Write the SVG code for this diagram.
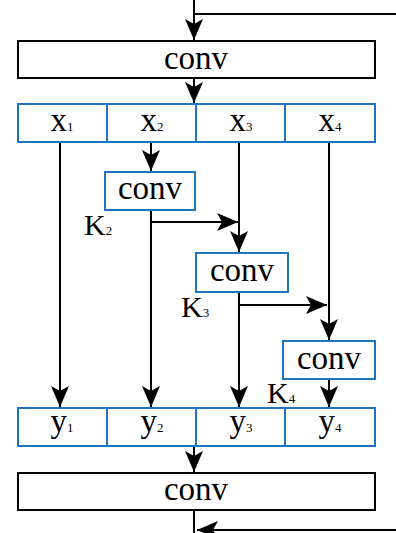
<svg xmlns="http://www.w3.org/2000/svg" width="396" height="533" viewBox="0 0 396 533">
<defs>
<marker id="ah" markerUnits="userSpaceOnUse" markerWidth="24" markerHeight="20" viewBox="-22 -10 24 20" refX="0" refY="0" orient="auto" overflow="visible">
<path d="M0,0 L-21,-9 L-16,0 L-21,9 Z" fill="#000"/>
</marker>
</defs>
<style>
.blk{fill:#fff;stroke:#000;stroke-width:2}
.blu{fill:#fff;stroke:#1f74be;stroke-width:2}
text{font-family:'Liberation Serif','Times New Roman',serif;fill:#000}
.t{font-size:33px;text-anchor:middle}
.s{font-size:13px}
.k{font-size:30px}
.c{fill:none;stroke:#000;stroke-width:2}
.a{marker-end:url(#ah)}
</style>
<g id="connectors">
<path class="c a" d="M194,0 V40"/>
<path class="c" d="M194,14 H396"/>
<path class="c a" d="M194,78 V103"/>
<path class="c a" d="M60,142 V407"/>
<path class="c a" d="M151,142 V171"/>
<path class="c a" d="M151,210 V407"/>
<path class="c a" d="M151,222 H238"/>
<path class="c a" d="M239,142 V252"/>
<path class="c a" d="M239,292 V407"/>
<path class="c a" d="M239,305 H327"/>
<path class="c a" d="M329,142 V340"/>
<path class="c a" d="M329,379 V407"/>
<path class="c a" d="M194,446 V472"/>
<path class="c" d="M194,510 V533"/>
<path class="c a" d="M396,530 H197"/>
</g>
<g id="conv_top"><rect class="blk" x="18" y="41" width="357" height="37"/><text class="t" x="196" y="69">conv</text></g>
<g id="x_row">
<rect class="blu" x="18" y="104" width="89" height="38"/>
<rect class="blu" x="107" y="104" width="89" height="38"/>
<rect class="blu" x="196" y="104" width="89" height="38"/>
<rect class="blu" x="285" y="104" width="90" height="38"/>
<text class="t" x="62" y="131">x<tspan class="s">1</tspan></text>
<text class="t" x="152" y="131">x<tspan class="s">2</tspan></text>
<text class="t" x="241" y="131">x<tspan class="s">3</tspan></text>
<text class="t" x="330" y="131">x<tspan class="s">4</tspan></text>
</g>
<g id="conv2"><rect class="blu" x="105" y="172" width="90" height="38"/><text class="t" x="150" y="199">conv</text></g>
<g id="conv3"><rect class="blu" x="196" y="253" width="92" height="39"/><text class="t" x="242" y="281">conv</text></g>
<g id="conv4"><rect class="blu" x="283" y="341" width="92" height="38"/><text class="t" x="329" y="369">conv</text></g>
<g id="k2"><text class="k" x="84" y="235">K<tspan class="s">2</tspan></text></g>
<g id="k3"><text class="k" x="181" y="317">K<tspan class="s">3</tspan></text></g>
<g id="k4"><text class="k" x="267" y="403">K<tspan class="s">4</tspan></text></g>
<g id="y_row">
<rect class="blu" x="18" y="408" width="89" height="38"/>
<rect class="blu" x="107" y="408" width="89" height="38"/>
<rect class="blu" x="196" y="408" width="89" height="38"/>
<rect class="blu" x="285" y="408" width="90" height="38"/>
<text class="t" x="62" y="432">y<tspan class="s">1</tspan></text>
<text class="t" x="152" y="432">y<tspan class="s">2</tspan></text>
<text class="t" x="241" y="432">y<tspan class="s">3</tspan></text>
<text class="t" x="330" y="432">y<tspan class="s">4</tspan></text>
</g>
<g id="conv_bottom"><rect class="blk" x="18" y="473" width="357" height="37"/><text class="t" x="196" y="500">conv</text></g>
</svg>
